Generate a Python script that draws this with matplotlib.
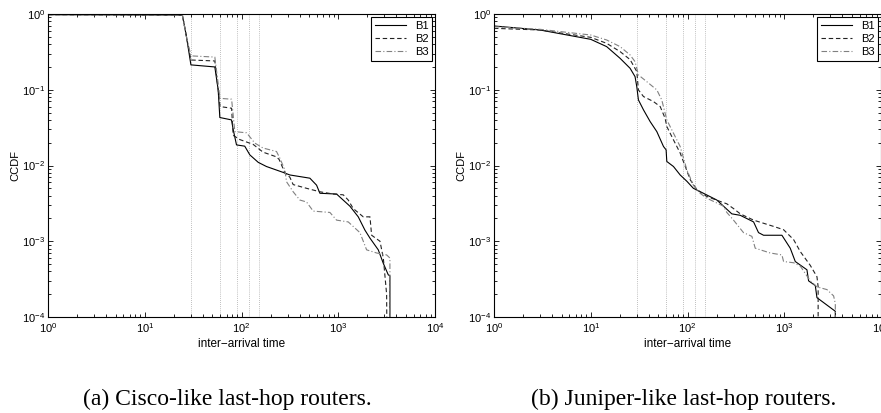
import matplotlib.pyplot as plt
from matplotlib.ticker import LogLocator, NullFormatter

plt.rcParams['font.family'] = ['Liberation Sans', 'DejaVu Sans']
plt.rcParams['mathtext.fontset'] = 'custom'
plt.rcParams['mathtext.rm'] = 'Liberation Sans'
plt.rcParams['mathtext.it'] = 'Liberation Sans'

# Cisco-like last-hop routers
cisco_b1_x = [1, 24.5, 27, 30, 53, 57.4, 59.7, 78.8, 82, 88.8, 108, 122, 149, 181, 270, 316,
              509, 597, 646, 961, 1321, 1610, 1888, 2127, 2593, 2923, 3290, 3420, 3420]
cisco_b1_y = [0.98, 0.97, 0.5, 0.213, 0.2, 0.1, 0.043, 0.04, 0.03, 0.0187, 0.018, 0.0138, 0.011,
              0.0097, 0.0081, 0.0075, 0.0068, 0.0055, 0.0043, 0.0042, 0.0029, 0.0021, 0.0014,
              0.0011, 0.00077, 0.00051, 0.00036, 0.00035, 0.00001]
cisco_b2_x = [1, 24.5, 27, 30, 53, 57.4, 60, 79, 82, 96, 132, 167, 230, 245, 281, 316, 342, 470,
              646, 888, 1127, 1268, 1429, 1814, 2127, 2213, 2699, 2923, 3162, 3213]
cisco_b2_y = [0.98, 0.97, 0.5, 0.247, 0.24, 0.1, 0.06, 0.057, 0.025, 0.022, 0.019, 0.015, 0.013,
              0.012, 0.008, 0.007, 0.0056, 0.005, 0.0045, 0.0042, 0.0041, 0.0035, 0.0027, 0.0021,
              0.0021, 0.0012, 0.001, 0.0006, 0.0002, 0.00001]
cisco_b3_x = [1, 24.5, 27, 30, 53, 57.4, 60, 79, 85.3, 113, 137, 167, 230, 249, 281, 292, 342,
              401, 470, 551, 820, 961, 1268, 1675, 1964, 2493, 3162, 3420, 3420]
cisco_b3_y = [0.98, 0.97, 0.5, 0.28, 0.27, 0.12, 0.077, 0.075, 0.028, 0.027, 0.0198, 0.017,
              0.0153, 0.0125, 0.0087, 0.0061, 0.0045, 0.0035, 0.0033, 0.0025, 0.0024, 0.0019,
              0.0018, 0.0013, 0.00077, 0.0007, 0.00066, 0.0006, 0.00001]

# Juniper-like last-hop routers
juniper_b1_x = [1, 2.99, 10, 14.6, 20.1, 25.5, 28.7, 29.9, 31.1, 35.1, 41.1, 48.2, 56.5, 60.1,
                61.1, 71.6, 84, 98.4, 115, 146, 201, 236, 287, 351, 482, 542, 611, 946, 1153,
                1300, 1716, 1785, 2093, 2178, 3371, 3371]
juniper_b1_y = [0.695, 0.615, 0.463, 0.371, 0.26, 0.192, 0.149, 0.11, 0.0734, 0.0542, 0.038,
                0.028, 0.0178, 0.0161, 0.0113, 0.0097, 0.0075, 0.0062, 0.0050, 0.0043, 0.0035,
                0.0029, 0.0023, 0.0022, 0.0018, 0.0013, 0.0012, 0.0012, 0.00081, 0.00054,
                0.00042, 0.0003, 0.00026, 0.00018, 0.000119, 0.00001]
juniper_b2_x = [1, 2.99, 10, 14.6, 20.1, 25.5, 29.9, 31.1, 35.1, 44.5, 52.2, 58.7, 61.1, 71.6,
                84, 94.6, 106.6, 125, 158.5, 218, 255, 299, 351, 482, 776, 984, 1250, 1465,
                1858, 2178, 2240, 2240]
juniper_b2_y = [0.647, 0.615, 0.492, 0.41, 0.319, 0.25, 0.174, 0.0995, 0.0813, 0.0698, 0.06,
                0.042, 0.0327, 0.0218, 0.0146, 0.0098, 0.0065, 0.0048, 0.0039, 0.00335, 0.00312,
                0.0027, 0.0023, 0.0019, 0.00157, 0.00142, 0.00105, 0.00073, 0.00048, 0.00034,
                0.00025, 0.00001]
juniper_b3_x = [1, 2.99, 10, 14.6, 20.1, 25.5, 28.7, 31.1, 37.9, 48.2, 54.2, 61.1, 71.6, 84,
                98.4, 115, 135, 158.5, 236, 255, 299, 379, 463, 501, 716, 946, 984, 1250, 1465,
                1858, 2178, 2763, 3237, 3371, 3371]
juniper_b3_y = [0.68, 0.628, 0.528, 0.454, 0.371, 0.288, 0.235, 0.157, 0.128, 0.0995, 0.0734,
                0.04, 0.0267, 0.0178, 0.0088, 0.0055, 0.0043, 0.0037, 0.0029, 0.0024, 0.0019,
                0.0013, 0.00116, 0.00081, 0.0007, 0.00066, 0.00054, 0.00052, 0.00047, 0.0003,
                0.00025, 0.00023, 0.00019, 0.00015, 0.00001]

marker_times = [30, 60, 90, 120, 150]
labels = ['B1', 'B2', 'B3']
captions = ['(a) Cisco-like last-hop routers.', '(b) Juniper-like last-hop routers.']

panels = [
    ((cisco_b1_x, cisco_b1_y), (cisco_b2_x, cisco_b2_y), (cisco_b3_x, cisco_b3_y)),
    ((juniper_b1_x, juniper_b1_y), (juniper_b2_x, juniper_b2_y), (juniper_b3_x, juniper_b3_y)),
]
styles = [dict(color='black', linestyle='-'),
          dict(color='#222222', linestyle=(0, (4, 2.5))),
          dict(color='#808080', linestyle=(0, (5, 2, 1, 2)))]

fig = plt.figure(figsize=(8.81, 4.13), dpi=100)
lefts = [48 / 881, 494 / 881]
caption_x = [227 / 881, 684 / 881]

for k, series in enumerate(panels):
    ax = fig.add_axes([lefts[k], 96 / 413, 387 / 881, 303 / 413])
    # dotted reference lines at fixed inter-arrival times
    for t in marker_times:
        ax.axvline(t, color='#aaaaaa', linestyle=(0, (1, 1.5)), linewidth=0.6, zorder=1)
    for (x, y), lab, st in zip(series, labels, styles):
        ax.plot(x, y, label=lab, linewidth=0.8, zorder=2, **st)
    ax.set_xscale('log')
    ax.set_yscale('log')
    ax.set_xlim(1, 1e4)
    ax.set_ylim(1e-4, 1)
    ax.xaxis.set_minor_locator(LogLocator(base=10, subs=range(2, 10), numticks=20))
    ax.yaxis.set_minor_locator(LogLocator(base=10, subs=range(2, 10), numticks=20))
    ax.xaxis.set_minor_formatter(NullFormatter())
    ax.yaxis.set_minor_formatter(NullFormatter())
    ax.tick_params(which='both', direction='in', top=True, right=True, labelsize=8, width=0.6)
    ax.tick_params(axis='x', pad=3)
    ax.tick_params(axis='y', pad=2)
    ax.tick_params(which='major', length=3.5)
    ax.tick_params(which='minor', length=2)
    for sp in ax.spines.values():
        sp.set_linewidth(0.8)
    ax.set_xlabel('inter\u2212arrival time', fontsize=8.5, labelpad=2.5)
    ax.set_ylabel('CCDF', fontsize=8, labelpad=1)
    leg = ax.legend(loc='upper right', fontsize=8, fancybox=False, framealpha=1,
                    edgecolor='black', borderaxespad=0.3, handlelength=2.8,
                    labelspacing=0.3, borderpad=0.3)
    leg.get_frame().set_linewidth(0.8)
    fig.text(caption_x[k], 1 - 399 / 413, captions[k],
             family='Liberation Serif', fontsize=17, ha='center', va='center')

fig.savefig('out.png', dpi=100)
